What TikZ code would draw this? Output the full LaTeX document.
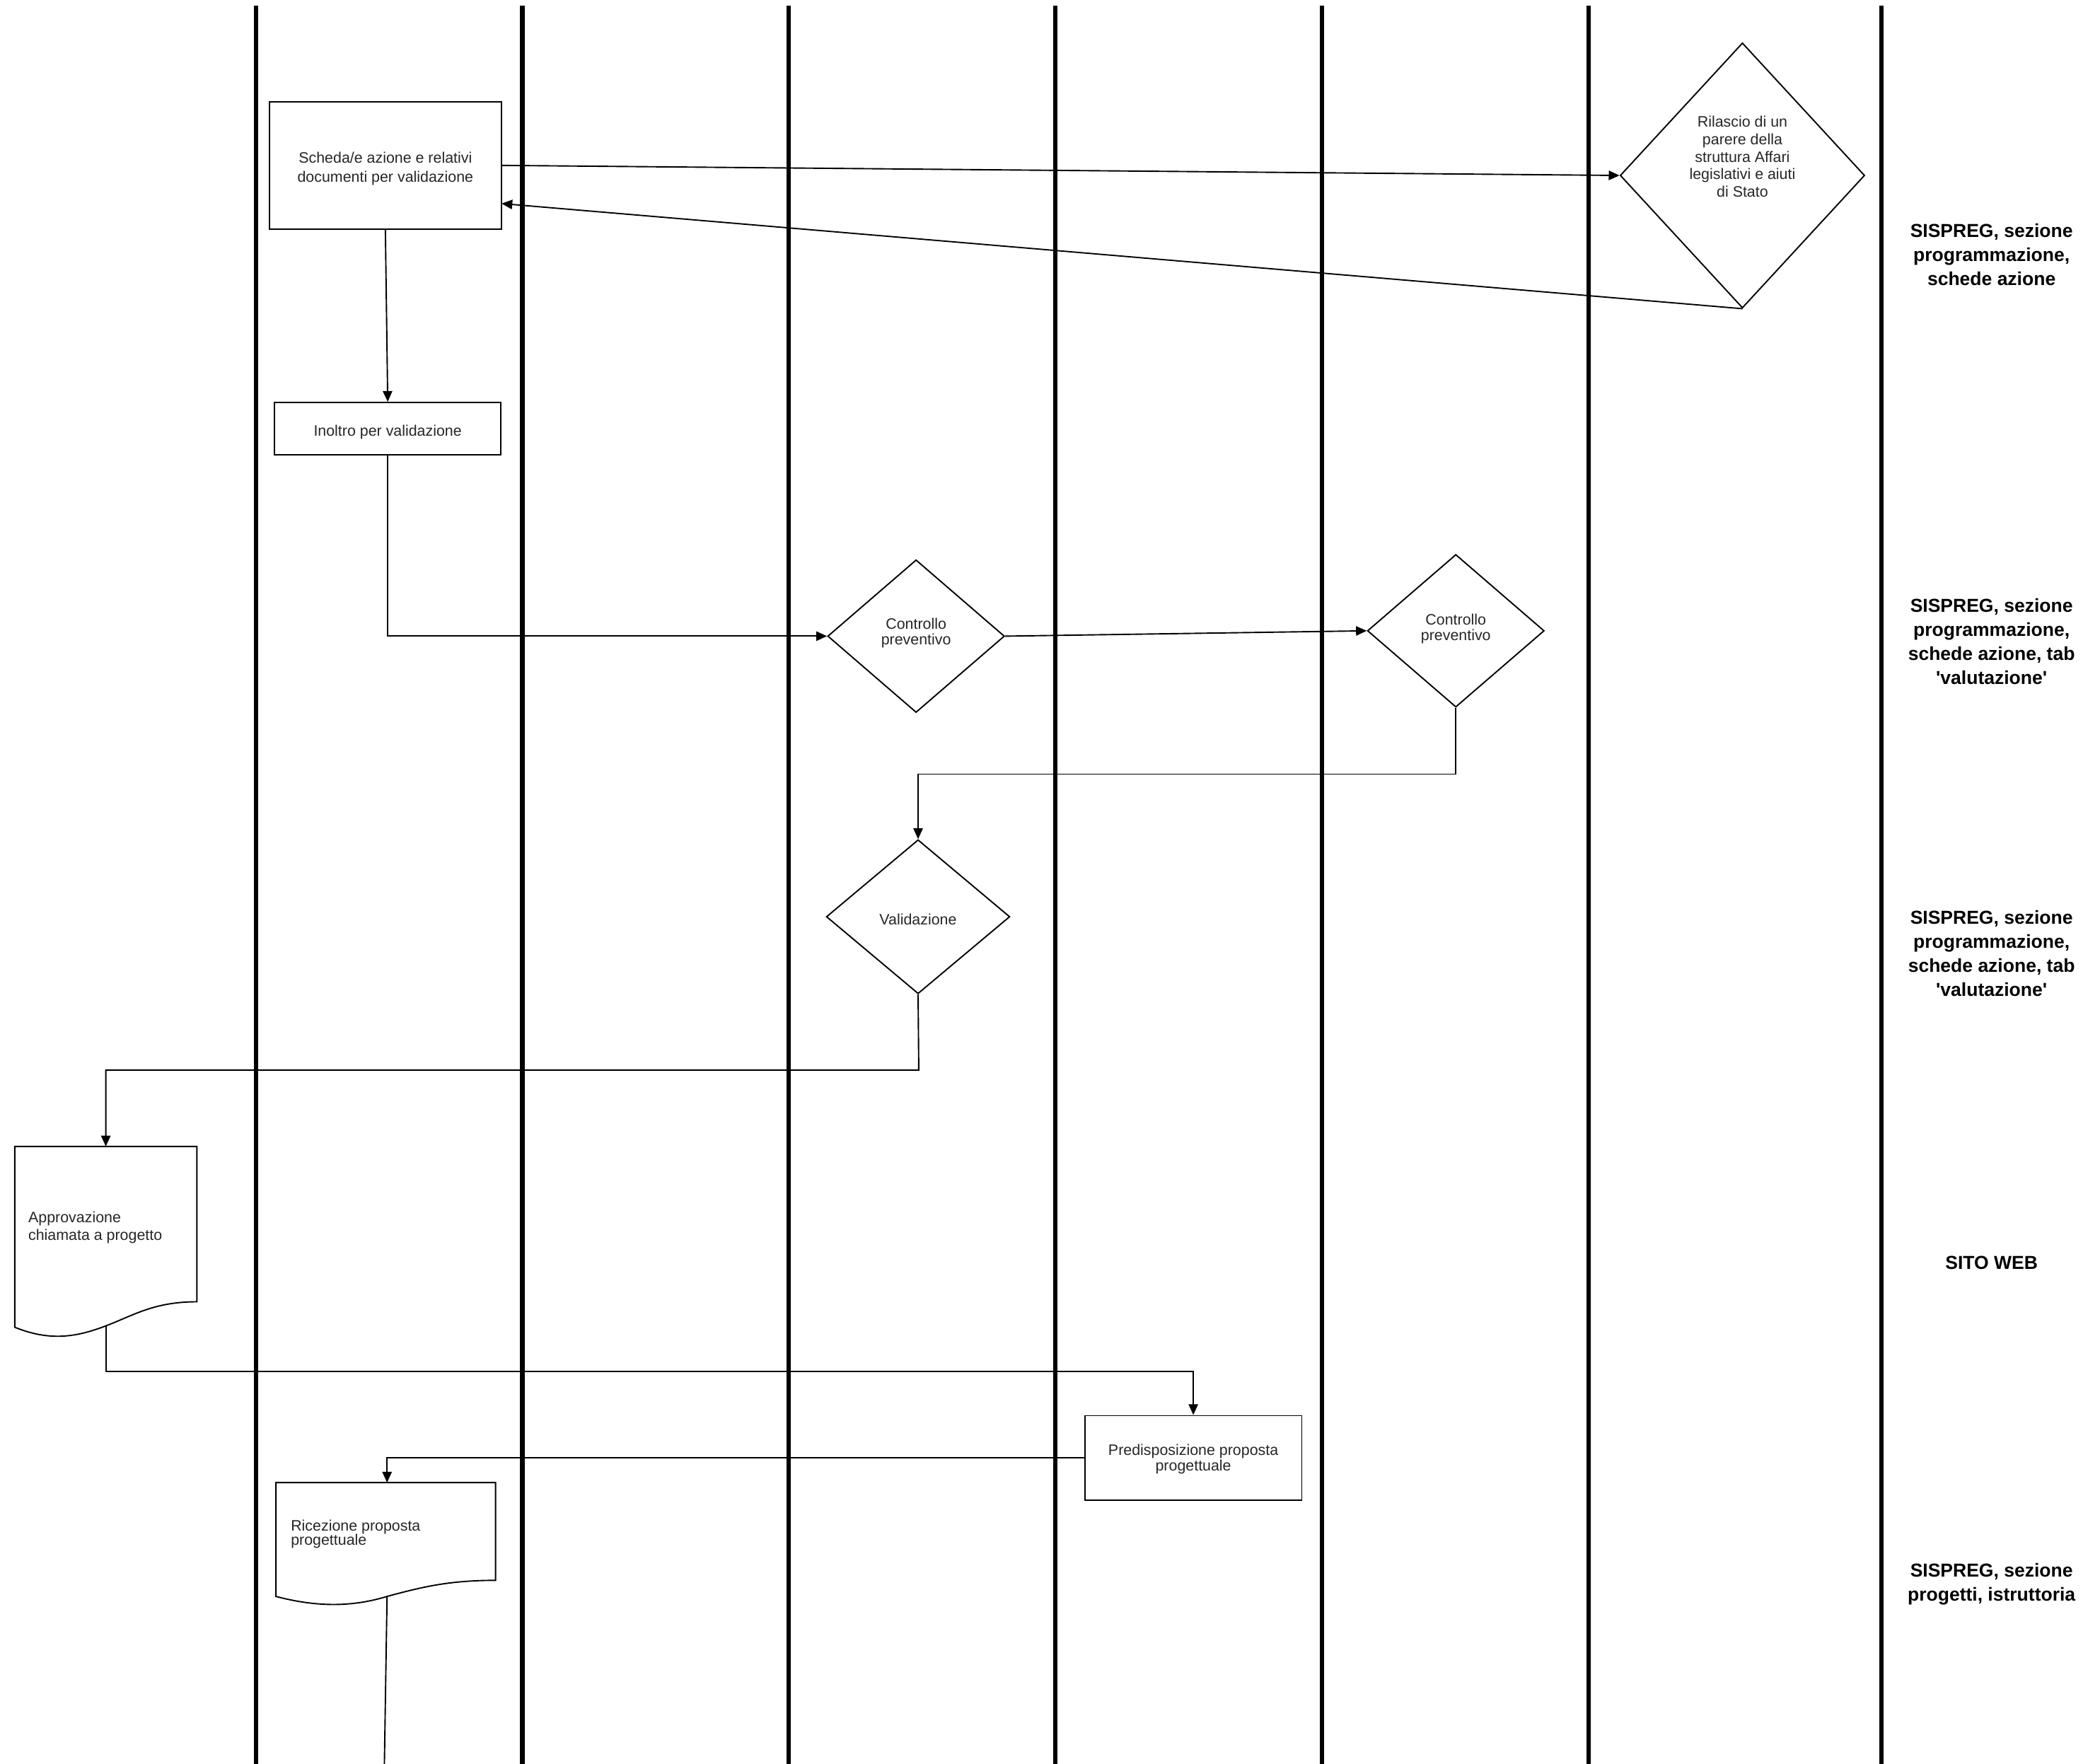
\documentclass[tikz,border=0pt]{standalone}
\usepackage{fontspec}
\setmainfont{Liberation Sans}
\usetikzlibrary{shapes.geometric,arrows.meta,calc}
\definecolor{txtc}{gray}{0.15}
\newcommand\tightlines{\lineskiplimit=-100pt\relax}
\begin{document}
\begin{tikzpicture}[x=1pt,y=-1pt,
  lane/.style={line width=3.2pt},
  shapeline/.style={draw=black,line width=1pt},
  proc/.style={shapeline,rectangle,inner sep=0pt,text=txtc,align=center,font=\fontsize{11.3}{14}\selectfont},
  dec/.style={shapeline,diamond,inner sep=0pt,aspect=1,text=txtc,align=center,font=\fontsize{11.3}{11.5}\selectfont},
  txt/.style={inner sep=0pt,text=txtc,font=\fontsize{11.3}{13}\selectfont},
  conn/.style={line width=1pt,-{Triangle[length=8pt,width=7pt]}},
  sys/.style={inner sep=0pt,align=center,font=\fontsize{14}{18}\selectfont\bfseries}]
\useasboundingbox (0,0) rectangle (1568,1317);
\fill[white] (0,0) rectangle (1568,1317);
% swimlane lines
\foreach \lx in {191,390,589,788,987,1186,1405}
  \draw[lane] (\lx,4) -- (\lx,1317);
% nodes
\node[proc,minimum width=173.5pt,minimum height=95pt,
  label={[txt,align=center,font=\fontsize{11.3}{14}\selectfont,yshift=-2.5pt]center:{Scheda/e azione e relativi\\documenti per validazione}}] (box1) at (287.75,123.5) {};
\node[proc,minimum width=169pt,minimum height=39pt,
  label={[txt,yshift=-2.5pt]center:{Inoltro per validazione}}] (inoltro) at (289.5,320) {};
\node[dec,minimum width=182.6pt,minimum height=198pt] (ril) at (1301,131) {};
\node[txt,align=center] (riltxt) at (1301,117)
  {Rilascio di un\\parere della\\struttura Affari\\legislativi e aiuti\\di Stato};
\node[dec,minimum width=132pt,minimum height=114pt,
  label={[txt,align=center,font=\fontsize{11.3}{11.5}\selectfont,yshift=2.5pt]center:{Controllo\\preventivo}}] (ctrl1) at (684,475) {};
\node[dec,minimum width=132pt,minimum height=114pt,
  label={[txt,align=center,font=\fontsize{11.3}{11.5}\selectfont,yshift=1.5pt]center:{Controllo\\preventivo}}] (ctrl2) at (1087,471) {};
\node[dec,minimum width=137pt,minimum height=115pt,
  label={[txt,yshift=-2pt]center:{Validazione}}] (valid) at (685.5,684.5) {};
\node[proc,minimum width=162pt,minimum height=63pt,
  label={[txt,align=center,font=\fontsize{11.3}{9}\selectfont,yshift=-1pt]center:{\tightlines Predisposizione proposta\\progettuale}}] (pred) at (891,1088.5) {};
% document 1
\draw[shapeline] (11,856) -- (147,856) -- (147,972)
  .. controls (115,972) and (100,982) .. (79,990)
  .. controls (58,998) and (38,1002) .. (11,991) -- cycle;
\coordinate (doc1top) at (79,856);
\coordinate (doc1bot) at (79,990);
\node[txt,align=left,anchor=west] (doc1txt) at (21,916.5)
  {Approvazione\\chiamata a progetto};
% document 2
\draw[shapeline] (206,1107) -- (370,1107) -- (370,1180)
  .. controls (335,1180) and (315,1185) .. (289,1192)
  .. controls (266,1199) and (240,1201) .. (206,1192) -- cycle;
\coordinate (doc2top) at (289,1107);
\coordinate (doc2bot) at (289,1192);
\coordinate (doc2end) at (287,1317);
\node[txt,align=left,anchor=west,font=\fontsize{11.3}{11}\selectfont] (doc2txt) at (217,1145.5)
  {\tightlines Ricezione proposta\\progettuale};
% system labels
\node[sys] (s1) at (1487,190) {SISPREG, sezione\\programmazione,\\schede azione};
\node[sys] (s2) at (1487,479) {SISPREG, sezione\\programmazione,\\schede azione, tab\\\textquotesingle valutazione\textquotesingle};
\node[sys] (s3) at (1487,712) {SISPREG, sezione\\programmazione,\\schede azione, tab\\\textquotesingle valutazione\textquotesingle};
\node[sys] (s4) at (1487,943) {SITO WEB};
\node[sys] (s5) at (1487,1183) {SISPREG, sezione\\progetti, istruttoria};
% connectors
\coordinate (b1in) at (374.5,152);
\draw[conn] (box1.east) -- (ril.west);
\draw[conn] (ril.south) -- (b1in);
\draw[conn] (box1.south) -- (inoltro.north);
\draw[conn] (inoltro.south) |- (ctrl1.west);
\draw[conn] (ctrl1.east) -- (ctrl2.west);
\coordinate (c2turn) at (1087,578);
\draw[conn] (ctrl2.south) -- (c2turn) -| (valid.north);
\coordinate (vturn) at (686,799);
\draw[conn] (valid.south) -- (vturn) -| (doc1top);
\coordinate (d1turn) at (79,1024);
\draw[conn] (doc1bot) -- (d1turn) -| (pred.north);
\draw[conn] (pred.west) -| (doc2top);
\draw[line width=1pt] (doc2bot) -- (doc2end);
\end{tikzpicture}
\end{document}
